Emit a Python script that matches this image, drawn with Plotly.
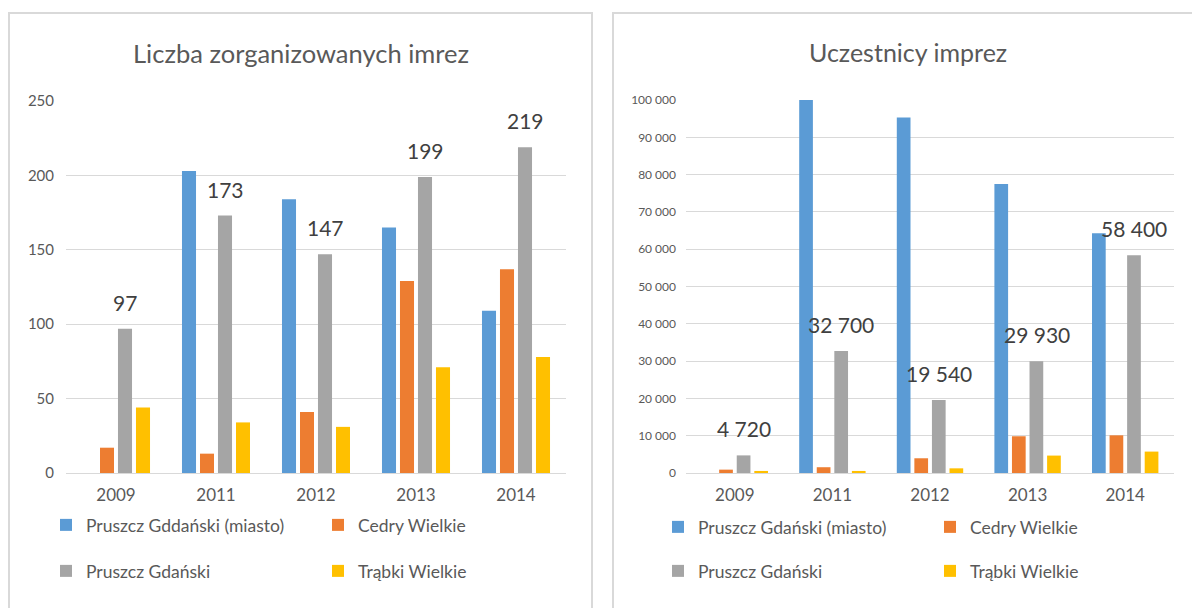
import plotly.graph_objects as go

W, H = 1192, 608

years = ["2009", "2011", "2012", "2013", "2014"]

# Liczba zorganizowanych imprez
events_miasto = [0, 203, 184, 165, 109]
events_cedry = [17, 13, 41, 129, 137]
events_gmina = [97, 173, 147, 199, 219]
events_trabki = [44, 34, 31, 71, 78]

# Uczestnicy imprez
people_miasto = [0, 100000, 95300, 77500, 64300]
people_cedry = [900, 1550, 3950, 9850, 10100]
people_gmina = [4720, 32700, 19540, 29930, 58400]
people_trabki = [550, 550, 1250, 4670, 5740]

left_ticks = [0, 50, 100, 150, 200, 250]
right_ticks = [0, 10000, 20000, 30000, 40000, 50000, 60000, 70000, 80000, 90000, 100000]

names_left = ["Pruszcz Gddański (miasto)", "Cedry Wielkie", "Pruszcz Gdański", "Trąbki Wielkie"]
names_right = ["Pruszcz Gdański (miasto)", "Cedry Wielkie", "Pruszcz Gdański", "Trąbki Wielkie"]
colors = ["#5b9bd5", "#ed7d31", "#a5a5a5", "#ffc000"]

FONT = "Lato, 'Open Sans', sans-serif"
TXT = "#595959"
GRID = "#d9d9d9"


def px_x(p):
    return p / W


def px_y(p):
    return 1 - p / H


def spaced(v):
    # Polish style thousands grouping: 32 700
    return f"{v:,d}".replace(",", " ")


fig = go.Figure()

left_series = [events_miasto, events_cedry, events_gmina, events_trabki]
right_series = [people_miasto, people_cedry, people_gmina, people_trabki]
left_leg = ["legend", "legend", "legend2", "legend2"]
right_leg = ["legend3", "legend3", "legend4", "legend4"]

for vals, name, col, lg in zip(left_series, names_left, colors, left_leg):
    fig.add_trace(go.Bar(x=years, y=vals, name=name, marker_color=col,
                         marker_line_width=0, xaxis="x", yaxis="y", legend=lg,
                         hoverinfo="skip"))

for vals, name, col, lg in zip(right_series, names_right, colors, right_leg):
    fig.add_trace(go.Bar(x=years, y=vals, name=name, marker_color=col,
                         marker_line_width=0, xaxis="x2", yaxis="y2", legend=lg,
                         hoverinfo="skip"))

annotations = []
# value labels above the grey series (x given as the category index)
for i, v in enumerate(events_gmina):
    annotations.append(dict(x=i, y=v, xref="x", yref="y", text=str(v),
                            showarrow=False, xanchor="center", yanchor="bottom",
                            xshift=9, yshift=12,
                            font=dict(family=FONT, size=21, color="#404040")))
for i, v in enumerate(people_gmina):
    annotations.append(dict(x=i, y=v, xref="x2", yref="y2", text=spaced(v),
                            showarrow=False, xanchor="center", yanchor="bottom",
                            xshift=9, yshift=12,
                            font=dict(family=FONT, size=21, color="#404040")))

# chart titles
annotations.append(dict(x=px_x(301), y=px_y(53), xref="paper", yref="paper",
                        text="Liczba zorganizowanych imrez", showarrow=False,
                        xanchor="center", yanchor="middle",
                        font=dict(family=FONT, size=25.5, color=TXT)))
annotations.append(dict(x=px_x(908), y=px_y(52), xref="paper", yref="paper",
                        text="Uczestnicy imprez", showarrow=False,
                        xanchor="center", yanchor="middle",
                        font=dict(family=FONT, size=25, color=TXT)))

# chart frames
shapes = [
    dict(type="rect", xref="paper", yref="paper",
         x0=px_x(9), x1=px_x(592), y0=px_y(640), y1=px_y(13),
         line=dict(color=GRID, width=2), fillcolor="rgba(0,0,0,0)", layer="below"),
    dict(type="rect", xref="paper", yref="paper",
         x0=px_x(613), x1=px_x(1230), y0=px_y(640), y1=px_y(13),
         line=dict(color=GRID, width=2), fillcolor="rgba(0,0,0,0)", layer="below"),
]

axis_x_common = dict(type="category", categoryorder="array", categoryarray=years,
                     range=[-0.5, len(years) - 0.5],
                     showgrid=False, zeroline=False, showline=False, ticks="",
                     ticklabelstandoff=10,
                     tickfont=dict(family=FONT, size=17, color=TXT), fixedrange=True)
axis_y_common = dict(showgrid=True, gridcolor=GRID, gridwidth=1, zeroline=True,
                     zerolinecolor=GRID, zerolinewidth=1, showline=False, ticks="",
                     fixedrange=True)

legend_common = dict(orientation="h", xanchor="left", yanchor="middle",
                     entrywidth=227, bgcolor="rgba(0,0,0,0)",
                     font=dict(family=FONT, size=17.5, color=TXT))

fig.update_layout(
    width=W, height=H,
    margin=dict(l=0, r=0, t=0, b=0, autoexpand=False),
    paper_bgcolor="white", plot_bgcolor="white",
    barmode="group", bargap=0.28, bargroupgap=0.22,
    font=dict(family=FONT, color=TXT),
    xaxis=dict(domain=[px_x(66), px_x(566)], anchor="y", **axis_x_common),
    yaxis=dict(domain=[px_y(473), px_y(101)], anchor="x", range=[0, 250],
               tickvals=left_ticks, ticktext=[str(t) for t in left_ticks],
               ticklabelstandoff=11,
               tickfont=dict(family=FONT, size=15, color=TXT), **axis_y_common),
    xaxis2=dict(domain=[px_x(686), px_x(1174)], anchor="y2", **axis_x_common),
    yaxis2=dict(domain=[px_y(473), px_y(100)], anchor="x2", range=[0, 100000],
                tickvals=right_ticks, ticktext=[spaced(t) for t in right_ticks],
                ticklabelstandoff=9,
                tickfont=dict(family=FONT, size=12, color=TXT), **axis_y_common),
    legend=dict(x=px_x(46), y=px_y(525), **legend_common),
    legend2=dict(x=px_x(46), y=px_y(571), **legend_common),
    legend3=dict(x=px_x(658), y=px_y(527), **legend_common),
    legend4=dict(x=px_x(658), y=px_y(571), **legend_common),
    annotations=annotations,
    shapes=shapes,
    showlegend=True,
)

fig.write_html("out.html")
